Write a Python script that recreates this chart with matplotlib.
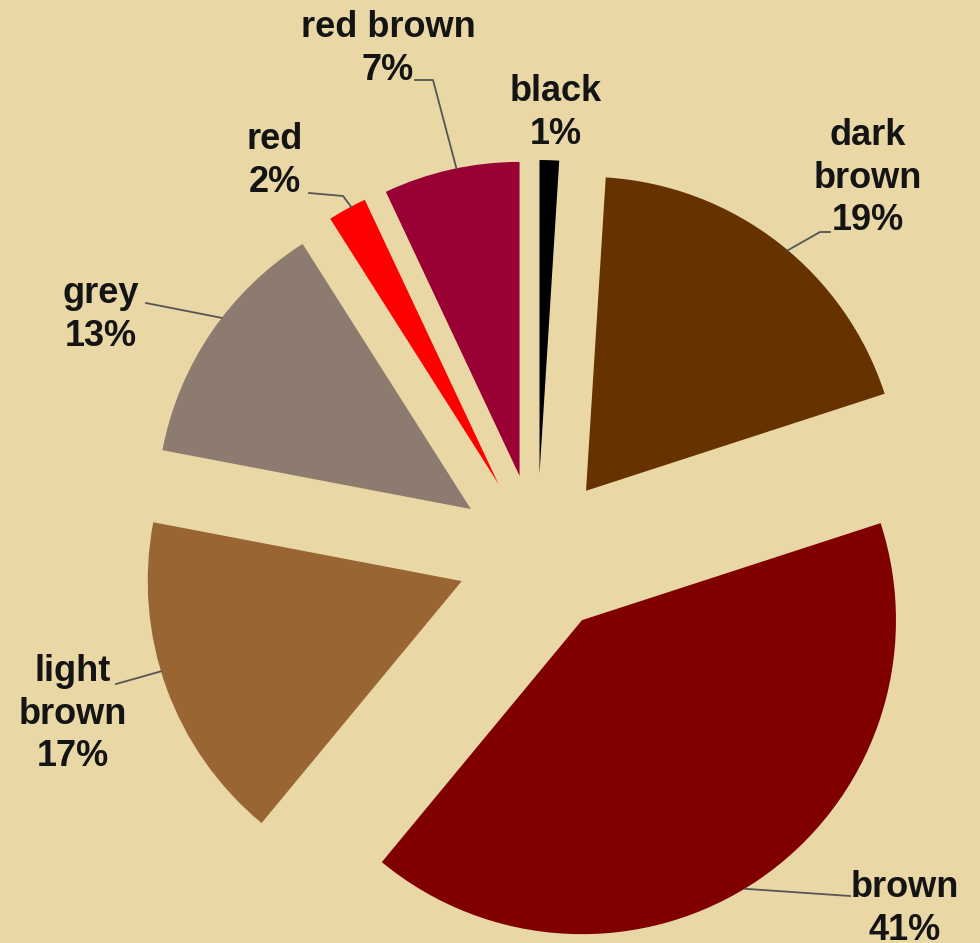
import numpy as np
import matplotlib
matplotlib.use("Agg")
import matplotlib.pyplot as plt

# colour shares, clockwise from 12 o'clock
labels = ["black", "dark\nbrown", "brown", "light\nbrown", "grey", "red", "red brown"]
shares = [1, 19, 41, 17, 13, 2, 7]
colors = ["#000000", "#663300", "#800000", "#996633", "#8C7B6E", "#FF0000", "#990033"]

W, H = 980, 943
fig = plt.figure(figsize=(W / 100, H / 100), dpi=100)
fig.patch.set_facecolor("#EAD7A6")
ax = fig.add_axes([0, 0, 1, 1])

wedges, _ = ax.pie(shares, colors=colors, startangle=90, counterclock=False,
                   center=(537, H - 554), radius=314, explode=[80] * len(shares),
                   frame=True, wedgeprops=dict(linewidth=0))
ax.set_xlim(0, W)
ax.set_ylim(0, H)
ax.set_aspect("equal")
ax.axis("off")

# label placement: text centre (image px), leader elbow, attach angle on the arc
place = [
    ((556, 113), None, None),
    ((868, 178), [(830, 232), (820, 232)], 50),
    ((905, 909), [(850, 896)], -58.8),
    ((73, 714), [(116, 684)], 196.7),
    ((101, 315), [(146, 303)], 142.5),
    ((275, 161), [(309, 193), (343, 196)], 118),
    ((388, 49), [(415, 80), (433, 80)], 101.6),
]

for w, lab, val, (pos, elbow, ang) in zip(wedges, labels, shares, place):
    ax.text(pos[0], H - pos[1], f"{lab}\n{val}%", ha="center", va="center",
            fontsize=26, fontweight="bold", family="Liberation Sans",
            color="#141414", linespacing=1.28)
    if elbow is None:
        continue
    cx, cy = w.center
    ex = cx + w.r * np.cos(np.radians(ang))
    ey = cy + w.r * np.sin(np.radians(ang))
    xs = [p[0] for p in elbow] + [ex]
    ys = [H - p[1] for p in elbow] + [ey]
    ax.plot(xs, ys, color="#555555", lw=1.3)

fig.savefig("out.png", dpi=100, facecolor=fig.get_facecolor())
